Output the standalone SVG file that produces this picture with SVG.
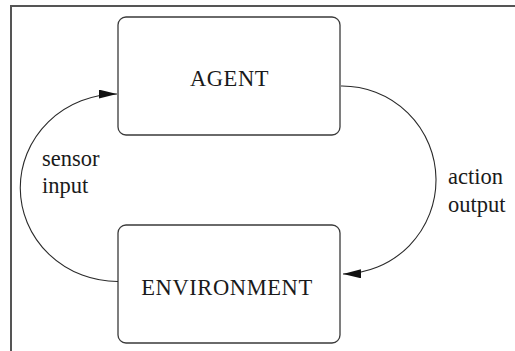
<svg xmlns="http://www.w3.org/2000/svg" width="515" height="351" viewBox="0 0 515 351">
<style>
.box{fill:#fff;stroke:#3a3a3a;stroke-width:1.3}
.lbl{font-family:"Liberation Serif","Times New Roman",serif;fill:#1a1a1a}
.big{font-size:22.5px;letter-spacing:0.6px}
.small{font-size:22.5px}
.conn{fill:none;stroke:#2a2a2a;stroke-width:1.1}
</style>
<defs>
<marker id="arr" markerUnits="userSpaceOnUse" markerWidth="18" markerHeight="10" refX="18" refY="4.5" orient="auto">
<path d="M0,0 L18,4.5 L0,9 z" fill="#111"/>
</marker>
</defs>
<rect width="515" height="351" fill="#fff"/>
<path d="M11,351 V6 H515" fill="none" stroke="#555" stroke-width="2"/>
<g id="agent">
<rect class="box" x="118" y="17" width="222" height="118" rx="8"/>
<text class="lbl big" x="229.5" y="86" text-anchor="middle">AGENT</text>
</g>
<g id="environment">
<rect class="box" x="118" y="225" width="222" height="118" rx="8"/>
<text class="lbl big" x="227" y="295" text-anchor="middle">ENVIRONMENT</text>
</g>
<g id="connectors">
<path class="conn" d="M118,281.5 A97,93.5 0 0 1 117,94" marker-end="url(#arr)"/>
<path class="conn" d="M341,86 A94,94 0 0 1 343,274" marker-end="url(#arr)"/>
<text class="lbl small" x="42" y="166">sensor</text>
<text class="lbl small" x="42" y="193">input</text>
<text class="lbl small" x="448" y="184">action</text>
<text class="lbl small" x="448" y="212">output</text>
</g>
</svg>
